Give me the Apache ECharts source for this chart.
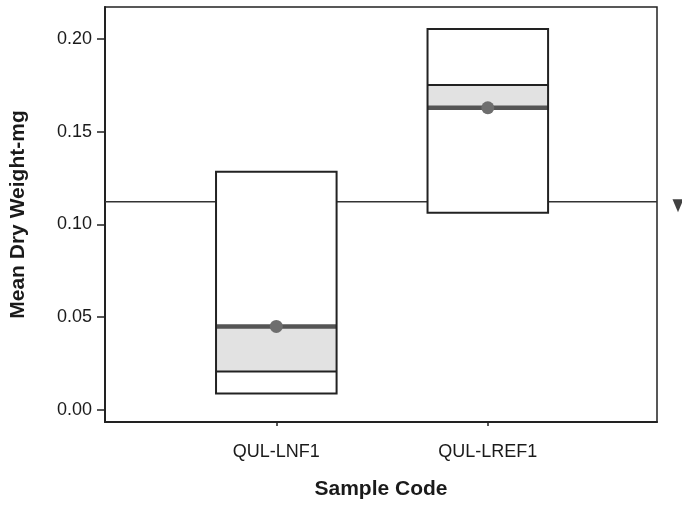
<!DOCTYPE html>
<html>
<head>
<meta charset="utf-8">
<script src="https://cdn.jsdelivr.net/npm/echarts@6/dist/echarts.min.js"></script>
<style>
html,body{margin:0;padding:0;background:#fff;}
#chart{width:682px;height:508px;}
</style>
</head>
<body>
<div id="chart"></div>
<script>
// ---- data ----
var categories = ['QUL-LNF1', 'QUL-LREF1'];
var boxLow   = [0.0089, 0.1063];
var boxHigh  = [0.1284, 0.2054];
var means    = [0.0450, 0.1629];
var bandEdge = [0.0207, 0.1752];
var grandMean = 0.1122;
var yTicks = [0, 0.05, 0.10, 0.15, 0.20];
var xTicks = [0, 1];

var X_MIN = -0.81, X_MAX = 1.80;
var HALF = 0.285;

var boxData = categories.map(function (c, i) {
  return [i, boxLow[i], boxHigh[i], means[i], bandEdge[i]];
});

var chart = echarts.init(document.getElementById('chart'), null, {renderer: 'canvas'});

var textColor = '#1a1a1a';
var font = 'Liberation Sans, Arial, sans-serif';

chart.setOption({
  backgroundColor: '#ffffff',
  animation: false,
  grid: {
    left: 104, right: 25, top: 7, bottom: 86,
    show: true, borderColor: '#222', borderWidth: 1.5, backgroundColor: 'transparent'
  },
  xAxis: {
    type: 'value',
    min: X_MIN, max: X_MAX,
    name: 'Sample Code',
    nameLocation: 'middle',
    nameGap: 57,
    nameTextStyle: {fontFamily: font, fontSize: 21, fontWeight: 'bold', color: textColor},
    axisLine: {show: true, onZero: false, lineStyle: {color: '#222', width: 2}},
    axisTick: {show: true, length: 4, lineStyle: {color: '#222', width: 1.5}, customValues: xTicks},
    axisLabel: {
      customValues: xTicks,
      formatter: function (v) { return categories[Math.round(v)]; },
      fontFamily: font, fontSize: 18, color: textColor, margin: 21
    },
    splitLine: {show: false}
  },
  yAxis: {
    type: 'value',
    min: -0.0065, max: 0.2172,
    name: 'Mean Dry Weight-mg',
    nameLocation: 'middle',
    nameGap: 76,
    nameRotate: 90,
    nameTextStyle: {fontFamily: font, fontSize: 21, fontWeight: 'bold', color: textColor},
    axisLine: {show: true, onZero: false, lineStyle: {color: '#222', width: 2}},
    axisTick: {show: true, length: 8, lineStyle: {color: '#222', width: 1.5}, customValues: yTicks},
    axisLabel: {
      customValues: yTicks,
      formatter: function (v) { return v.toFixed(2); },
      fontFamily: font, fontSize: 18, color: textColor, margin: 13
    },
    splitLine: {show: false}
  },
  series: [
    {
      type: 'line',
      data: [[X_MIN, grandMean], [X_MAX, grandMean]],
      symbol: 'none',
      lineStyle: {color: '#333', width: 1.5},
      z: 1
    },
    {
      type: 'custom',
      data: boxData,
      z: 2,
      renderItem: function (params, api) {
        var x = api.value(0), lo = api.value(1), hi = api.value(2), m = api.value(3), e = api.value(4);
        var tl = api.coord([x - HALF, hi]);
        var br = api.coord([x + HALF, lo]);
        var mL = api.coord([x - HALF, m]);
        var mR = api.coord([x + HALF, m]);
        var eL = api.coord([x - HALF, e]);
        var eR = api.coord([x + HALF, e]);
        var c = api.coord([x, m]);
        var bandTop = Math.min(mL[1], eL[1]);
        var bandH = Math.abs(mL[1] - eL[1]);
        return {
          type: 'group',
          children: [
            {type: 'rect', shape: {x: tl[0], y: tl[1], width: br[0] - tl[0], height: br[1] - tl[1]},
             style: {fill: '#ffffff', stroke: null}},
            {type: 'rect', shape: {x: tl[0], y: bandTop, width: br[0] - tl[0], height: bandH},
             style: {fill: '#e2e2e2', stroke: null}},
            {type: 'line', shape: {x1: eL[0], y1: eL[1], x2: eR[0], y2: eR[1]},
             style: {stroke: '#222', lineWidth: 2}},
            {type: 'line', shape: {x1: mL[0], y1: mL[1], x2: mR[0], y2: mR[1]},
             style: {stroke: '#555', lineWidth: 4.5}},
            {type: 'rect', shape: {x: tl[0], y: tl[1], width: br[0] - tl[0], height: br[1] - tl[1]},
             style: {fill: null, stroke: '#222', lineWidth: 2}},
            {type: 'circle', shape: {cx: c[0], cy: c[1], r: 6.5},
             style: {fill: '#6e6e6e', stroke: null}}
          ]
        };
      }
    },
    {
      type: 'scatter',
      data: [[X_MAX, grandMean]],
      symbol: 'path://M0,0L11,0L5.5,13Z',
      symbolSize: [11, 13],
      symbolOffset: [21, 4],
      itemStyle: {color: '#111'},
      clip: false,
      silent: true,
      z: 5
    }
  ]
});
</script>
</body>
</html>
